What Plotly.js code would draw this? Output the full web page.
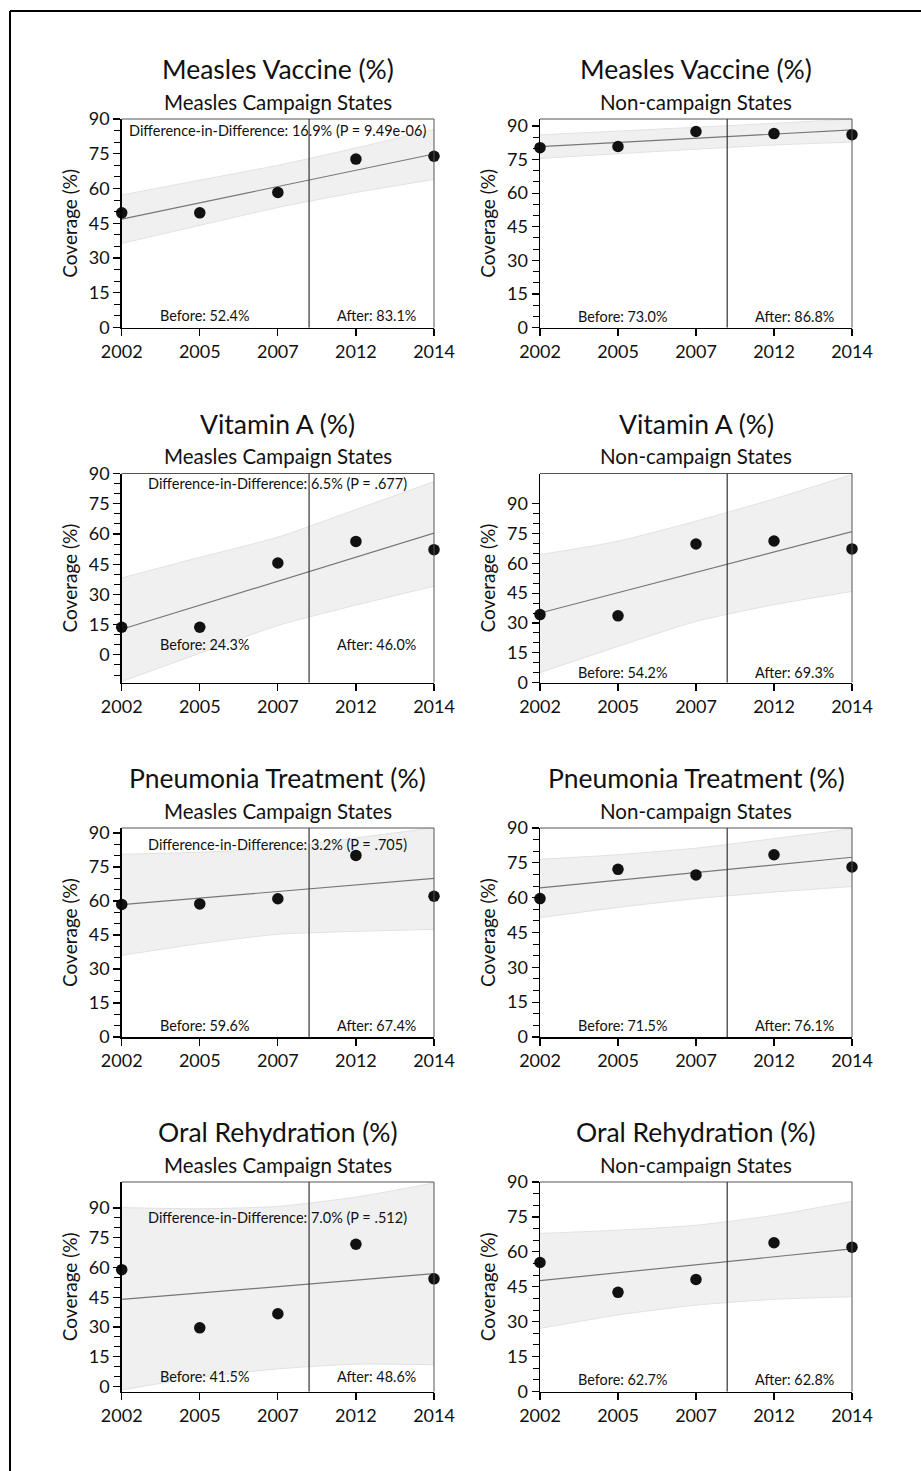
<!DOCTYPE html>
<html>
<head>
<meta charset="utf-8">
<script src="https://cdn.plot.ly/plotly-3.0.1.min.js"></script>
<style>
  html, body { margin: 0; padding: 0; background: #fff; }
  #chart { width: 921px; height: 1471px; }
</style>
</head>
<body>
<div id="chart"></div>
<script>
// Survey years shown on every x axis
const years = ['2002', '2005', '2007', '2012', '2014'];
// Position of the campaign divider between 2007 and 2012 (category index units)
const campaignPos = 2.4;

// ---- Measles vaccine, campaign states ----
const measlesCampCov   = [49.5, 49.5, 58.3, 72.7, 73.9];
const measlesCampFit   = [46.8, 74.9];
const measlesCampUpper = [57.2, 63.6, 70.0, 77.5, 85.5];
const measlesCampLower = [36.3, 44.1, 51.8, 58.3, 63.9];
// ---- Measles vaccine, non-campaign states ----
const measlesNonCov   = [80.3, 80.8, 87.5, 86.6, 86.1];
const measlesNonFit   = [80.8, 88.2];
const measlesNonUpper = [86.0, 87.7, 89.4, 91.2, 93.0];
const measlesNonLower = [75.5, 77.6, 79.6, 81.5, 82.8];
// ---- Vitamin A, campaign states ----
const vitaCampCov   = [13.7, 13.7, 45.6, 56.3, 52.2];
const vitaCampFit   = [12.7, 60.4];
const vitaCampUpper = [38.2, 48.4, 58.4, 72.1, 86.0];
const vitaCampLower = [-13.2, 0.8, 14.6, 24.7, 34.1];
// ---- Vitamin A, non-campaign states ----
const vitaNonCov   = [34.2, 33.6, 69.8, 71.3, 67.3];
const vitaNonFit   = [35.0, 76.0];
const vitaNonUpper = [64.4, 71.2, 81.3, 92.5, 104.8];
const vitaNonLower = [5.0, 18.2, 30.8, 39.2, 45.9];
// ---- Pneumonia treatment, campaign states ----
const pneuCampCov   = [58.5, 58.7, 61.0, 80.1, 62.1];
const pneuCampFit   = [58.4, 70.0];
const pneuCampUpper = [80.6, 81.5, 83.2, 87.8, 92.3];
const pneuCampLower = [36.0, 41.2, 45.3, 46.6, 47.5];
// ---- Pneumonia treatment, non-campaign states ----
const pneuNonCov   = [59.6, 72.2, 69.8, 78.5, 73.2];
const pneuNonFit   = [64.2, 77.4];
const pneuNonUpper = [76.5, 78.5, 81.3, 85.4, 89.7];
const pneuNonLower = [51.4, 55.8, 59.6, 62.4, 64.8];
// ---- Oral rehydration, campaign states ----
const orsCampCov   = [58.9, 29.6, 36.7, 71.7, 54.3];
const orsCampFit   = [43.9, 56.9];
const orsCampUpper = [90.2, 89.6, 90.8, 95.5, 102.6];
const orsCampLower = [-1.7, 4.7, 8.9, 11.3, 11.0];
// ---- Oral rehydration, non-campaign states ----
const orsNonCov   = [55.4, 42.6, 48.1, 63.9, 62.0];
const orsNonFit   = [47.6, 61.3];
const orsNonUpper = [67.9, 69.3, 71.4, 75.7, 81.7];
const orsNonLower = [27.1, 32.9, 37.1, 39.6, 40.7];

// Indicator titles, group subtitles and the summary labels per panel
const indicatorTitles = ['Measles Vaccine (%)', 'Vitamin A (%)', 'Pneumonia Treatment (%)', 'Oral Rehydration (%)'];
const groupTitles = ['Measles Campaign States', 'Non-campaign States'];
const beforeLabels = ['52.4%', '73.0%', '24.3%', '54.2%', '59.6%', '71.5%', '41.5%', '62.7%'];
const afterLabels  = ['83.1%', '86.8%', '46.0%', '69.3%', '67.4%', '76.1%', '48.6%', '62.8%'];
const didLabels    = ['16.9% (P = 9.49e-06)', null, '6.5% (P = .677)', null, '3.2% (P = .705)', null, '7.0% (P = .512)', null];
const yRanges = [[0, 90], [0, 93.1], [-13.7, 90], [0, 105.3], [0, 92.2], [0, 90], [-2.5, 103.1], [0, 90]];

const panels = [
  [measlesCampCov, measlesCampFit, measlesCampUpper, measlesCampLower],
  [measlesNonCov, measlesNonFit, measlesNonUpper, measlesNonLower],
  [vitaCampCov, vitaCampFit, vitaCampUpper, vitaCampLower],
  [vitaNonCov, vitaNonFit, vitaNonUpper, vitaNonLower],
  [pneuCampCov, pneuCampFit, pneuCampUpper, pneuCampLower],
  [pneuNonCov, pneuNonFit, pneuNonUpper, pneuNonLower],
  [orsCampCov, orsCampFit, orsCampUpper, orsCampLower],
  [orsNonCov, orsNonFit, orsNonUpper, orsNonLower]
];

// Page geometry (pixels)
const W = 921, H = 1471;
const colX = [[121.7, 434], [540, 852]];
const rowY = [[119, 327.5], [473.5, 682.5], [828, 1037], [1182, 1391.5]];
const FONT = 'Lato, "Open Sans", sans-serif';
const INK = '#111';

const xIdx = years.map((_, i) => i);
const majorY = [0, 15, 30, 45, 60, 75, 90];
const minorY = [-10, -5, 5, 10, 20, 25, 35, 40, 50, 55, 65, 70, 80, 85];

const data = [];
const layout = {
  width: W, height: H,
  margin: {l: 0, r: 0, t: 0, b: 0},
  paper_bgcolor: '#fff', plot_bgcolor: 'rgba(0,0,0,0)',
  showlegend: false,
  font: {family: FONT, color: INK},
  annotations: [], shapes: []
};

panels.forEach((p, i) => {
  const [cov, fit, upper, lower] = p;
  const row = Math.floor(i / 2), col = i % 2;
  const n = i + 1;
  const xa = 'x' + (n === 1 ? '' : n), ya = 'y' + (n === 1 ? '' : n);
  const xKey = 'xaxis' + (n === 1 ? '' : n), yKey = 'yaxis' + (n === 1 ? '' : n);
  const [x0, x1] = colX[col];
  const [top, bot] = rowY[row];

  // confidence band
  data.push({x: xIdx, y: lower, xaxis: xa, yaxis: ya, mode: 'lines', type: 'scatter',
    line: {color: '#e1e1e1', width: 1, shape: 'spline', smoothing: 0.6}, hoverinfo: 'skip'});
  data.push({x: xIdx, y: upper, xaxis: xa, yaxis: ya, mode: 'lines', type: 'scatter',
    fill: 'tonexty', fillcolor: '#f0f0f0',
    line: {color: '#e1e1e1', width: 1, shape: 'spline', smoothing: 0.6}, hoverinfo: 'skip'});
  // linear trend
  data.push({x: [0, years.length - 1], y: fit, xaxis: xa, yaxis: ya, mode: 'lines', type: 'scatter',
    line: {color: '#777', width: 1.2}, hoverinfo: 'skip'});
  // observed coverage
  data.push({x: xIdx, y: cov, xaxis: xa, yaxis: ya, mode: 'markers', type: 'scatter',
    marker: {color: '#111', size: 11.5}, cliponaxis: false});

  layout[xKey] = {
    domain: [x0 / W, x1 / W], anchor: ya, range: [0, years.length - 1],
    tickmode: 'array', tickvals: xIdx, ticktext: years,
    ticks: 'outside', ticklen: 7, tickwidth: 1.2, tickcolor: '#000',
    showline: true, linecolor: '#000', linewidth: 1.5,
    showgrid: false, zeroline: false,
    tickfont: {size: 18, family: FONT, color: INK}
  };
  layout[yKey] = {
    domain: [1 - bot / H, 1 - top / H], anchor: xa, range: yRanges[i],
    tickmode: 'array', tickvals: majorY,
    ticks: 'outside', ticklen: 7, tickwidth: 1.2, tickcolor: '#000',
    minor: {tickmode: 'array', tickvals: minorY, ticks: 'outside', ticklen: 6, tickwidth: 1, tickcolor: '#000'},
    showline: true, linecolor: '#000', linewidth: 1.5,
    showgrid: false, zeroline: false,
    tickfont: {size: 18, family: FONT, color: INK},
    title: {text: 'Coverage (%)', font: {size: 19, family: FONT, color: INK}, standoff: 6}
  };

  // frame top/right and the campaign divider
  layout.shapes.push({type: 'line', xref: xa + ' domain', yref: ya + ' domain', x0: 0, x1: 1, y0: 1, y1: 1,
    line: {color: '#555', width: 1}});
  layout.shapes.push({type: 'line', xref: xa + ' domain', yref: ya + ' domain', x0: 1, x1: 1, y0: 0, y1: 1,
    line: {color: '#555', width: 1}});
  layout.shapes.push({type: 'line', xref: xa, yref: ya + ' domain', x0: campaignPos, x1: campaignPos, y0: 0, y1: 1,
    line: {color: '#333', width: 1.2}});

  const cx = (x0 + x1) / 2 / W;
  layout.annotations.push({xref: 'paper', yref: 'paper', x: cx, y: 1 - (top - 50) / H,
    text: indicatorTitles[row], showarrow: false, xanchor: 'center', yanchor: 'middle',
    font: {size: 26.5, family: FONT, color: INK}});
  layout.annotations.push({xref: 'paper', yref: 'paper', x: cx, y: 1 - (top - 17.3) / H,
    text: groupTitles[col], showarrow: false, xanchor: 'center', yanchor: 'middle',
    font: {size: 20.5, family: FONT, color: INK}});
  layout.annotations.push({xref: xa, yref: ya, x: 1.06, y: 5, text: 'Before: ' + beforeLabels[i],
    showarrow: false, xanchor: 'center', yanchor: 'middle', font: {size: 14.4, family: FONT, color: INK}});
  layout.annotations.push({xref: xa, yref: ya, x: 3.26, y: 5, text: 'After: ' + afterLabels[i],
    showarrow: false, xanchor: 'center', yanchor: 'middle', font: {size: 14.4, family: FONT, color: INK}});
  if (didLabels[i]) {
    layout.annotations.push({xref: xa, yref: ya, x: 2, y: 85, text: 'Difference-in-Difference: ' + didLabels[i],
      showarrow: false, xanchor: 'center', yanchor: 'middle', font: {size: 14.5, family: FONT, color: INK}});
  }
});

// outer figure border (top and left edges)
layout.shapes.push({type: 'line', xref: 'paper', yref: 'paper', x0: 10 / W, x1: 1, y0: 1 - 11 / H, y1: 1 - 11 / H,
  line: {color: '#000', width: 2}});
layout.shapes.push({type: 'line', xref: 'paper', yref: 'paper', x0: 10 / W, x1: 10 / W, y0: 0, y1: 1 - 11 / H,
  line: {color: '#000', width: 2}});

Plotly.newPlot('chart', data, layout, {staticPlot: true, displayModeBar: false});
</script>
</body>
</html>
